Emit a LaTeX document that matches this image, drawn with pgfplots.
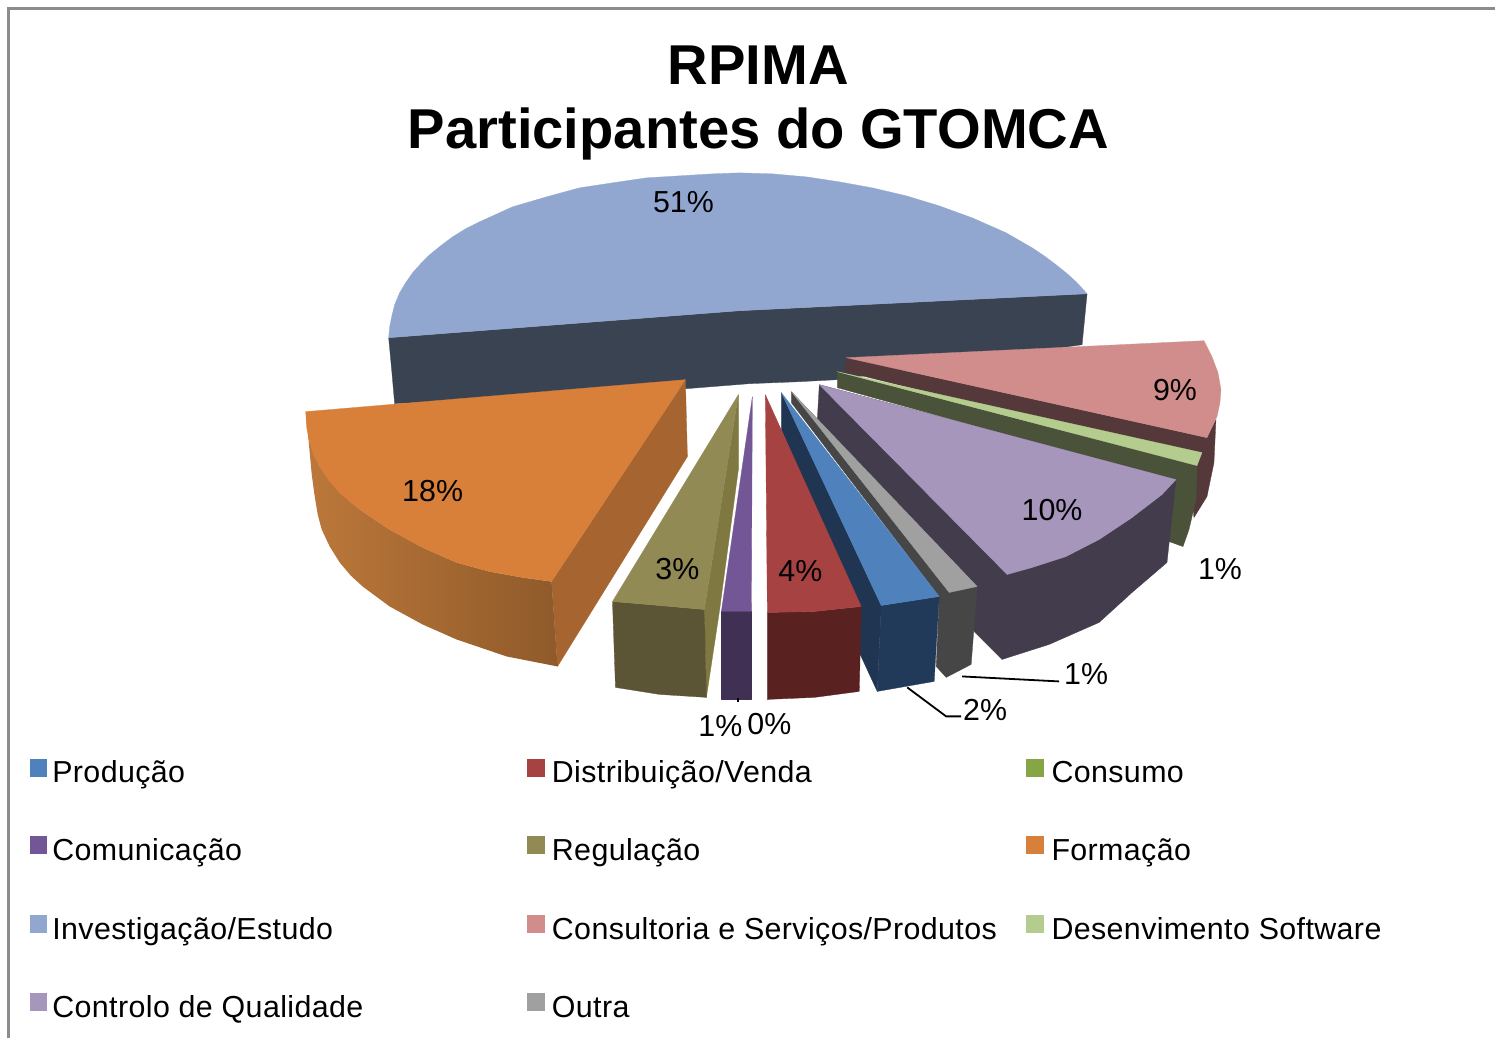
\documentclass[border=0pt]{standalone}
\usepackage{pgfplots}
\pgfplotsset{compat=1.18}
\usepackage{fontspec}
\setmainfont{Liberation Sans}
\definecolor{cInvS}{RGB}{58,67,82}
\definecolor{cInv}{RGB}{146,167,208}
\definecolor{cConS}{RGB}{85,57,58}
\definecolor{cCon}{RGB}{208,141,139}
\definecolor{cSofS}{RGB}{75,82,58}
\definecolor{cSof}{RGB}{181,204,143}
\definecolor{cCtlS}{RGB}{66,60,76}
\definecolor{cCtl}{RGB}{167,150,187}
\definecolor{cOutS}{RGB}{70,70,70}
\definecolor{cOut}{RGB}{160,160,160}
\definecolor{cProS}{RGB}{31,53,82}
\definecolor{cProF}{RGB}{34,58,90}
\definecolor{cPro}{RGB}{79,129,189}
\definecolor{cDisS}{RGB}{90,33,33}
\definecolor{cDis}{RGB}{166,66,66}
\definecolor{cComS}{RGB}{63,48,84}
\definecolor{cCom}{RGB}{114,86,150}
\definecolor{cRegL}{RGB}{127,120,64}
\definecolor{cRegS}{RGB}{92,85,53}
\definecolor{cReg}{RGB}{146,138,84}
\definecolor{cForL}{RGB}{166,101,48}
\definecolor{cForA}{RGB}{188,120,58}
\definecolor{cForB}{RGB}{143,90,42}
\definecolor{cFor}{RGB}{216,127,58}
\definecolor{cCons}{RGB}{134,166,70}
\newcommand{\poly}[2]{\addplot[fill=#1,draw=#1,line width=0.15pt,line join=round] coordinates {#2} -- cycle;}
\newcommand{\grad}[3]{\addplot[left color=#1,right color=#2,draw=none] coordinates {#3} -- cycle;}
\newcommand{\swatch}[2]{\addplot[only marks,mark=square*,mark size=4.2pt,color=#1,mark options={draw=#1,fill=#1,line width=0pt}] coordinates {(#2)};}
\newcommand{\lab}[2]{\node[font=\fontsize{15.2}{18}\selectfont,inner sep=0pt] at (axis cs:#1) {#2};}
\newcommand{\leg}[2]{\node[font=\fontsize{15.2}{18}\selectfont,inner sep=0pt,anchor=base west] at (axis cs:#1) {\addfontfeatures{LetterSpace=1.3}#2};}
\begin{document}
\begin{tikzpicture}
\begin{axis}[width=748pt,height=519.5pt,scale only axis,hide axis,clip=false,
  xmin=0,xmax=1496,ymin=0,ymax=1039,y dir=reverse]
% page extent
\addplot[draw=none] coordinates {(0,0) (1496,0) (1496,1039) (0,1039)};
% frame
\addplot[color=black!45,line width=1.3pt] coordinates {(8.5,1039) (8.5,8.5) (1496,8.5)};
% Investigacao side
\poly{cInvS}{(389,338) (740,311) (1088,294) (1083,345) (838,380) (800,382) (750,384) (687,389) (395,404) (392,370)}
% Investigacao top
\poly{cInv}{(389,338) (390,327) (392,317) (395,305) (400,293) (406,283) (413,273) (421,264) (430,255) (441,246) (453,237) (466,229) (480,222) (513,207) (547,197) (580,188) (613,183) (647,178) (680,176) (713,174) (740,173) (773,174) (807,177) (840,182) (873,188) (907,196) (940,206) (973,218) (1007,233) (1033,248) (1045,256) (1057,265) (1067,273) (1077,282) (1088,294) (740,311)}
% Consultoria
\poly{cConS}{(847,358) (1208,438) (1217,420) (1215,463) (1208,497) (1195,518) (1190,470) (1000,410) (846,372)}
\poly{cCon}{(847,358) (1205,341) (1213,357) (1219,373) (1222,390) (1221,403) (1218,417) (1208,438)}
% Software
\poly{cSofS}{(838,372) (1198,466) (1197,500) (1190,530) (1184,547) (1170,542) (1170,480) (838,388)}
\poly{cSof}{(838,372) (1203,453) (1198,466)}
% Controlo
\poly{cCtlS}{(820,385) (1177,480) (1168,563) (1133,593) (1100,623) (1050,645) (1003,660) (975,632) (818,420)}
\poly{cCtl}{(820,385) (1177,480) (1163,495) (1133,518) (1100,540) (1067,557) (1033,568) (1008,575)}
% Outra
\poly{cOutS}{(792,392) (978,587) (972,665) (947,678) (937,667) (940,597) (792,403)}
\poly{cOut}{(792,392) (978,587) (950,593)}
% Producao
\poly{cProS}{(782,393) (882,606) (878,692) (860,653) (858,603) (782,430)}
\poly{cProF}{(882,606) (940,597) (935,682) (878,692)}
\poly{cPro}{(782,393) (940,597) (882,606)}
% Distribuicao
\poly{cDisS}{(768,613) (815,612) (862,607) (860,692) (815,698) (768,700)}
\poly{cDis}{(766,395) (862,607) (815,612) (768,613)}
% Comunicacao
\poly{cComS}{(722,612) (752,612) (752,700) (722,700)}
\poly{cCom}{(753,397) (752,612) (722,612)}
% Regulacao
\poly{cRegL}{(739,395) (705,610) (707,698) (720,612) (739,470)}
\poly{cRegS}{(613,602) (660,606) (705,610) (707,698) (660,695) (616,688)}
\poly{cReg}{(739,395) (705,610) (660,606) (613,602)}
% Formacao
\poly{cForL}{(686,380) (552,582) (558,667) (688,457)}
\grad{cForA}{cForB}{(306,412) (310,453) (312,475) (315,497) (318,515) (322,530) (330,547) (340,563) (351,576) (363,587) (390,607) (423,625) (457,640) (507,657) (558,667) (552,582) (523,578) (490,572) (457,563) (423,548) (390,530) (363,512) (340,493) (320,467) (310,443)}
\poly{cFor}{(686,380) (306,412) (307,428) (310,443) (314,456) (320,467) (329,481) (340,493) (351,503) (363,512) (390,530) (423,548) (457,563) (490,572) (523,578) (552,582)}
% leaders
\addplot[black,line width=0.9pt] coordinates {(908,688) (947,717) (962,717)};
\addplot[black,line width=0.9pt] coordinates {(963,677) (1060,682)};
\addplot[black,line width=0.9pt] coordinates {(739,699) (739,703)};
% legend swatches
\swatch{cPro}{38.5,768.5}
\swatch{cDis}{536.5,768.5}
\swatch{cCons}{1036,768.5}
\swatch{cCom}{38.5,845.5}
\swatch{cReg}{536.5,845.5}
\swatch{cFor}{1036,845.5}
\swatch{cInv}{38.5,925}
\swatch{cCon}{536.5,925}
\swatch{cSof}{1036,925}
\swatch{cCtl}{38.5,1002.5}
\swatch{cOut}{536.5,1002.5}
% title
\node[font=\fontsize{28.1}{32}\selectfont\bfseries,inner sep=0pt] at (axis cs:759,65) {RPIMA};
\node[font=\fontsize{28.1}{32}\selectfont\bfseries,inner sep=0pt] at (axis cs:759,134) {Participantes do GTOMCA};
% data labels
\lab{684,202}{51\%}
\lab{1176,390}{9\%}
\lab{1053,510}{10\%}
\lab{1221,570}{1\%}
\lab{433,491}{18\%}
\lab{678,570}{3\%}
\lab{801,572}{4\%}
\lab{721,727}{1\%}
\lab{770,725}{0\%}
\lab{1087,675}{1\%}
\lab{986,711}{2\%}
% legend text
\leg{52,783}{Produção}
\leg{552,783}{Distribuição/Venda}
\leg{1052,783}{Consumo}
\leg{52,861}{Comunicação}
\leg{552,861}{Regulação}
\leg{1052,861}{Formação}
\leg{52,940}{Investigação/Estudo}
\leg{552,940}{Consultoria e Serviços/Produtos}
\leg{1052,940}{Desenvimento Software}
\leg{52,1018}{Controlo de Qualidade}
\leg{552,1018}{Outra}
\end{axis}
\end{tikzpicture}
\end{document}
